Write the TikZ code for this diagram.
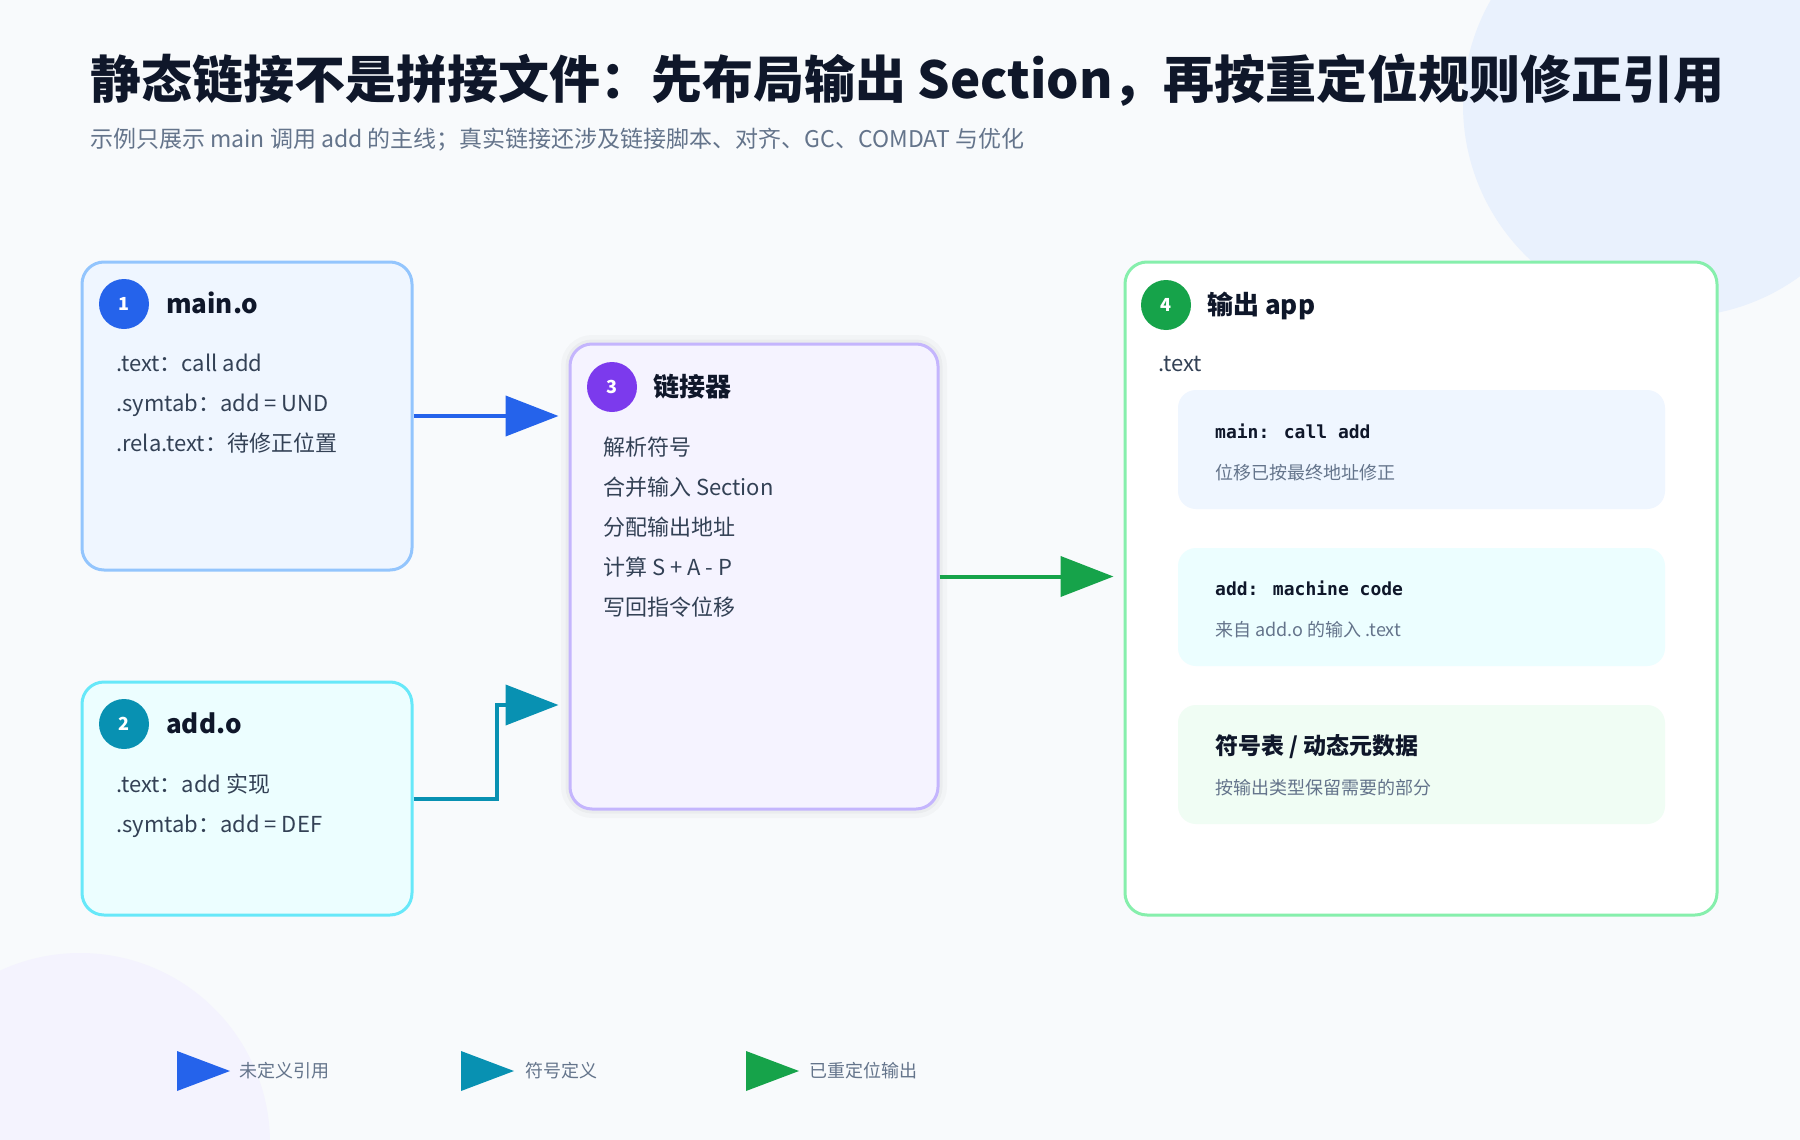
\documentclass[tikz,border=0pt]{standalone}
\usepackage{fontspec}
\setmainfont{Noto Sans CJK SC}
\newfontfamily\codefont{DejaVu Sans Mono}
\usetikzlibrary{arrows.meta}

\definecolor{bgpage}{HTML}{F8FAFC}
\definecolor{blobblue}{HTML}{E9F1FD}
\definecolor{blobviolet}{HTML}{F4F3FE}
\definecolor{ink}{HTML}{0F172A}
\definecolor{slate}{HTML}{334155}
\definecolor{muted}{HTML}{64748B}
\definecolor{refblue}{HTML}{2563EB}
\definecolor{defteal}{HTML}{0891B2}
\definecolor{linkviolet}{HTML}{7C3AED}
\definecolor{outgreen}{HTML}{16A34A}
\definecolor{mainline}{HTML}{93C5FD}
\definecolor{mainfill}{HTML}{EFF6FF}
\definecolor{addline}{HTML}{67E8F9}
\definecolor{addfill}{HTML}{ECFEFF}
\definecolor{linkline}{HTML}{C4B5FD}
\definecolor{linkfill}{HTML}{F5F3FF}
\definecolor{outline}{HTML}{86EFAC}
\definecolor{symfill}{HTML}{F0FDF4}

\begin{document}
\begin{tikzpicture}[x=1pt, y=-1pt,
  card/.style={draw, rounded corners=22pt, line width=3pt, inner sep=0pt},
  slot/.style={rounded corners=18pt, inner sep=0pt, minimum width=487pt},
  lifted/.style={preaction={draw=black, draw opacity=.025, line width=18pt},
                 preaction={draw=black, draw opacity=.03, line width=9pt}},
  badge/.style={circle, minimum size=50pt, inner sep=0pt, text=white, font=\bfseries\fontsize{18}{21}\selectfont},
  title/.style={anchor=west, inner sep=0pt, text=ink, text height=40pt, text depth=8pt, font=\bfseries\fontsize{51}{59}\selectfont},
  subtitle/.style={anchor=west, inner sep=0pt, text=muted, text height=18.5pt, text depth=3.7pt, font=\fontsize{23}{27}\selectfont},
  head/.style={anchor=west, inner sep=0pt, text=ink, text height=21pt, text depth=4pt, font=\bfseries\fontsize{26}{30}\selectfont},
  body/.style={anchor=west, inner sep=0pt, text=slate, text height=18pt, text depth=3.5pt, font=\fontsize{22}{26}\selectfont},
  code/.style={anchor=west, inner sep=0pt, text=ink, text height=14pt, text depth=3pt, font=\codefont\bfseries\fontsize{18}{22}\selectfont},
  note/.style={anchor=west, inner sep=0pt, text=muted, text height=14.4pt, text depth=2.9pt, font=\fontsize{18}{22}\selectfont},
  wire/.style={line width=4pt, shorten >=10pt, -{Triangle[length=53pt, width=40pt]}}]

% page and the two soft blobs
\fill[bgpage] (0,0) rectangle (1800,1140);
\begin{scope}
\clip (0,0) rectangle (1800,1140);
\fill[blobblue] (1675,105) circle (212);
\fill[blobviolet] (80,1143) circle (190);
\end{scope}
\useasboundingbox (0,0) rectangle (1800,1140);

\node[title] (heading) at (90,83) {静态链接不是拼接文件：先布局输出 Section，再按重定位规则修正引用};
\node[subtitle] (subheading) at (90,140) {示例只展示 main 调用 add 的主线；真实链接还涉及链接脚本、对齐、GC、COMDAT 与优化};

% 1 main.o
\node[card, draw=mainline, fill=mainfill, minimum width=330pt, minimum height=308pt] (maino) at (247,416) {};
\node[badge, fill=refblue] (b1) at (124,304) {1};
\node[head] (t1) at (166,305) {main.o};
\node[body] (l11) at (116,364) {.text：call add};
\node[body] (l12) at (116,404) {.symtab：add = UND};
\node[body] (l13) at (116,444) {.rela.text：待修正位置};

% 2 add.o
\node[card, draw=addline, fill=addfill, minimum width=330pt, minimum height=233pt] (addo) at (247,798.5) {};
\node[badge, fill=defteal] (b2) at (124,724) {2};
\node[head] (t2) at (166,725) {add.o};
\node[body] (l21) at (116,785) {.text：add 实现};
\node[body] (l22) at (116,825) {.symtab：add = DEF};

% 3 linker
\node[card, lifted, draw=linkline, fill=linkfill, minimum width=368pt, minimum height=465pt] (linker) at (754,576.5) {};
\node[badge, fill=linkviolet] (b3) at (612,387) {3};
\node[head] (t3) at (653,388) {链接器};
\node[body] (l31) at (603,448) {解析符号};
\node[body] (l32) at (603,488) {合并输入 Section};
\node[body] (l33) at (603,528) {分配输出地址};
\node[body] (l34) at (603,568) {计算 S + A - P};
\node[body] (l35) at (603,608) {写回指令位移};

% 4 output
\node[card, draw=outline, fill=white, minimum width=592pt, minimum height=653pt] (output) at (1421,588.5) {};
\node[badge, fill=outgreen] (b4) at (1166,305) {4};
\node[head] (t4) at (1207,306) {输出 app};
\node[body] (l41) at (1158,364) {.text};

\node[slot, fill=mainfill, minimum height=119pt] (slotmain) at (1421.5,449.5) {};
\node[code] (s11) at (1215,433) {main: call add};
\node[note] (s12) at (1215,474) {位移已按最终地址修正};

\node[slot, fill=addfill, minimum height=118pt] (slotadd) at (1421.5,607) {};
\node[code] (s21) at (1215,590) {add: machine code};
\node[note] (s22) at (1215,631) {来自 add.o 的输入 .text};

\node[slot, fill=symfill, minimum height=119pt] (slotsym) at (1421.5,764.5) {};
\node[head, font=\bfseries\fontsize{23}{27}\selectfont] (s31) at (1215,746) {符号表 / 动态元数据};
\node[note] (s32) at (1215,789) {按输出类型保留需要的部分};

% connectors
\draw[wire, refblue] (maino.east) -- (maino.east -| linker.west);
\draw[wire, defteal] (addo.east) -- ++(83,0) |- (linker.west |- 0,705);
\draw[wire, outgreen] (linker.east) -- (linker.east -| output.west);

% legend
\fill[refblue] (177,1051) -- (230,1071) -- (177,1091) -- cycle;
\node[note] (k1) at (239,1072) {未定义引用};
\fill[defteal] (461,1051) -- (514,1071) -- (461,1091) -- cycle;
\node[note] (k2) at (525,1072) {符号定义};
\fill[outgreen] (746,1051) -- (799,1071) -- (746,1091) -- cycle;
\node[note] (k3) at (809,1072) {已重定位输出};

\end{tikzpicture}
\end{document}
